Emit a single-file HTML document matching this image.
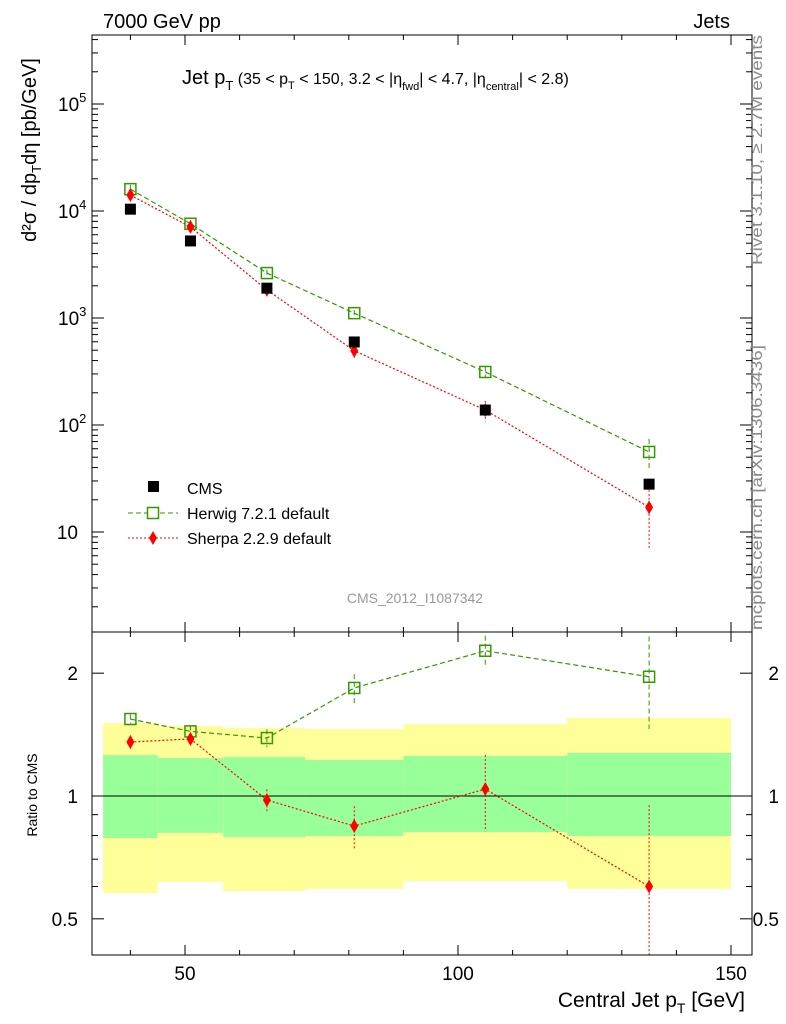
<!DOCTYPE html>
<html><head><meta charset="utf-8"><style>
body{margin:0;background:#fff;}
svg{display:block;font-family:"Liberation Sans",sans-serif;}
</style></head><body>
<svg id="c" width="786" height="1024"><defs><clipPath id="rc"><rect x="92" y="632" width="660" height="323"/></clipPath><clipPath id="mc"><rect x="92" y="35" width="660" height="597"/></clipPath></defs></svg>
<script>
const xs=[40,51,65,81,105,135];
const cmsVals=[10400,5250,1900,597,138,28];
const herwigVals=[16000,7600,2630,1110,313,56];
const herwigErr=[1500,600,200,80,40,18];
const sherpaVals=[14100,7100,1830,494,138,17];
const sherpaErr=[1500,700,200,70,30,10];
const herwigRatio=[1.544,1.44,1.387,1.84,2.27,1.96];
const herwigRatioErr=[0.04,0.05,0.07,0.15,0.2,0.5];
const sherpaRatio=[1.356,1.38,0.978,0.844,1.04,0.60];
const sherpaRatioErr=[0.05,0.05,0.06,0.1,0.22,0.35];
const binEdges=[35,45,57,72,90,120,150];
const yellowHi=[1.51,1.484,1.468,1.459,1.50,1.553];
const yellowLo=[0.578,0.616,0.585,0.592,0.619,0.592];
const greenHi=[1.26,1.239,1.246,1.225,1.253,1.275];
const greenLo=[0.789,0.812,0.793,0.798,0.816,0.798];
const xTicks=[50,100,150];
const mainTicks=[10,100,1000,10000,100000];
const mainTickLabels=["10","10<tspan dy='-9' font-size='13'>2</tspan>","10<tspan dy='-9' font-size='13'>3</tspan>","10<tspan dy='-9' font-size='13'>4</tspan>","10<tspan dy='-9' font-size='13'>5</tspan>"];
const ratioTicks=[0.5,1,2];

const svg=document.getElementById('c');
const NS='http://www.w3.org/2000/svg';
function el(t,a,name,parent){const e=document.createElementNS(NS,t);for(const k in a)e.setAttribute(k,a[k]);


(parent||svg).appendChild(e);return e;}
const L=92,R=752,T=35,M=632,B=955;
const X=v=>185+(v-50)*5.46;
const Y=v=>211-(Math.log10(v)-4)*107;
const RY=v=>796-Math.log10(v)*408;
const mainG=el('g',{'clip-path':'url(#mc)'},'main-plot-area');
const ratioG=el('g',{'clip-path':'url(#rc)'},'ratio-plot-area');

binEdges.slice(0,-1).forEach((e,i)=>{
 el('rect',{x:X(e),y:RY(yellowHi[i]),width:X(binEdges[i+1])-X(e),height:RY(yellowLo[i])-RY(yellowHi[i]),fill:'#ffff99'},'yellow-band',ratioG);
 el('rect',{x:X(e),y:RY(greenHi[i]),width:X(binEdges[i+1])-X(e),height:RY(greenLo[i])-RY(greenHi[i]),fill:'#99ff99'},'green-band',ratioG);
});
el('line',{x1:L,x2:R,y1:RY(1),y2:RY(1),stroke:'#000'},'ratio-unity-line',ratioG);
el('rect',{x:L,y:T,width:R-L,height:M-T,fill:'none',stroke:'#000'},'main-frame');
el('rect',{x:L,y:M,width:R-L,height:B-M,fill:'none',stroke:'#000'},'ratio-frame');
for(let v=40;v<=150;v+=10){const big=xTicks.includes(v);const l=big?10:5;
 [[M,-1],[B,-1],[T,1],[M,1]].forEach(([y,d])=>el('line',{x1:X(v),x2:X(v),y1:y,y2:y+d*l,stroke:'#000'},'x-tick'));}
xTicks.forEach(v=>{const t=el('text',{x:X(v),y:980,'font-size':19,'text-anchor':'middle'},'x-tick-label');t.textContent=v;});
for(let d=0;d<6;d++)for(let m=1;m<10;m++){const v=m*Math.pow(10,d);const y=Y(v);if(y<T||y>M)continue;const l=m==1?12:6;
 el('line',{x1:L,x2:L+l,y1:y,y2:y,stroke:'#000'},'y-tick');el('line',{x1:R,x2:R-l,y1:y,y2:y,stroke:'#000'},'y-tick');}
mainTicks.forEach((v,i)=>{const t=el('text',{x:i==0?78:58,y:Y(v)+7,'font-size':19,'text-anchor':i==0?'end':'start'},'y-tick-label');t.innerHTML=mainTickLabels[i];});
[0.5,0.6,0.7,0.8,0.9,1,2].forEach(v=>{const l=ratioTicks.includes(v)?12:6;
 el('line',{x1:L,x2:L+l,y1:RY(v),y2:RY(v),stroke:'#000'},'ratio-tick');el('line',{x1:R,x2:R-l,y1:RY(v),y2:RY(v),stroke:'#000'},'ratio-tick');});
ratioTicks.forEach(v=>{let t=el('text',{x:78,y:RY(v)+7,'font-size':19,'text-anchor':'end'},'ratio-tick-label');t.textContent=v;
 t=el('text',{x:779,y:RY(v)+7,'font-size':19,'text-anchor':'end'},'ratio-tick-label-right');t.textContent=v;});
function series(vals,errs,yf,color,dash,marker,name,g){
 const pts=xs.map((x,i)=>X(x)+','+yf(vals[i])).join(' ');
 el('polyline',{points:pts,fill:'none',stroke:color,'stroke-dasharray':dash,'stroke-width':1.2},name+'-line',g);
 xs.forEach((x,i)=>{
  el('line',{x1:X(x),x2:X(x),y1:yf(vals[i]+errs[i]),y2:yf(Math.max(vals[i]-errs[i],1e-3)),stroke:color,'stroke-dasharray':dash},name+'-error',g);
  const cx=X(x),cy=yf(vals[i]);
  if(marker=='sq')el('rect',{x:cx-5.5,y:cy-5.5,width:11,height:11,fill:'none',stroke:color,'stroke-width':1.5},name+'-marker',g);
  else el('polygon',{points:`${cx},${cy-7} ${cx+4},${cy} ${cx},${cy+7} ${cx-4},${cy}`,fill:color},name+'-marker',g);
 });
}
series(herwigVals,herwigErr,Y,'#339900','5,3','sq','herwig',mainG);
series(sherpaVals,sherpaErr,Y,'#ff0000','2,2','dia','sherpa',mainG);
xs.forEach((x,i)=>el('rect',{x:X(x)-5.5,y:Y(cmsVals[i])-5.5,width:11,height:11,fill:'#000'},'cms-marker',mainG));
series(herwigRatio,herwigRatioErr,RY,'#339900','5,3','sq','herwig-ratio',ratioG);
series(sherpaRatio,sherpaRatioErr,RY,'#ff0000','2,2','dia','sherpa-ratio',ratioG);
</script>
<svg width="786" height="1024" style="position:absolute;left:0;top:0;font-family:'Liberation Sans',sans-serif">
<text x="103" y="28" font-size="20">7000 GeV pp</text>
<text x="730" y="28" font-size="20" text-anchor="end">Jets</text>
<text x="182" y="84" font-size="20">Jet p<tspan dy="6" font-size="13">T</tspan><tspan dy="-6" font-size="16"> (35 &lt; p</tspan><tspan dy="5" font-size="11">T</tspan><tspan dy="-5" font-size="16"> &lt; 150, 3.2 &lt; |η</tspan><tspan dy="6" font-size="11">fwd</tspan><tspan dy="-6" font-size="16">| &lt; 4.7, |η</tspan><tspan dy="6" font-size="11">central</tspan><tspan dy="-6" font-size="16">| &lt; 2.8)</tspan></text>
<g transform="translate(36,150) rotate(-90)"><text x="0" y="0" font-size="20" text-anchor="middle">d²σ / dp<tspan font-size="13" dy="5">T</tspan><tspan dy="-5">dη [pb/GeV]</tspan></text></g>
<g transform="translate(762,265) rotate(-90)"><text font-size="16" fill="#888" textLength="230" lengthAdjust="spacingAndGlyphs">Rivet 3.1.10, ≥ 2.7M events</text></g>
<g transform="translate(762,630) rotate(-90)"><text font-size="16" fill="#888" textLength="285" lengthAdjust="spacingAndGlyphs">mcplots.cern.ch [arXiv:1306.3436]</text></g>
<text x="415" y="603" font-size="14" fill="#999" text-anchor="middle">CMS_2012_I1087342</text>
<rect x="148" y="481" width="11" height="11" fill="#000"/>
<text x="187" y="494" font-size="16">CMS</text>
<line x1="128" x2="178" y1="513" y2="513" stroke="#339900" stroke-dasharray="5,3"/>
<rect x="147.5" y="507.5" width="11" height="11" fill="#fff" stroke="#339900" stroke-width="1.5"/>
<text x="187" y="519" font-size="16">Herwig 7.2.1 default</text>
<line x1="128" x2="178" y1="538" y2="538" stroke="#f00" stroke-dasharray="2,2"/>
<polygon points="153,531 157,538 153,545 149,538" fill="#f00"/>
<text x="187" y="544" font-size="16">Sherpa 2.2.9 default</text>
<g transform="translate(37,795) rotate(-90)"><text font-size="14" text-anchor="middle">Ratio to CMS</text></g>
<text x="745" y="1007" font-size="21" text-anchor="end">Central Jet p<tspan dy="6" font-size="14">T</tspan><tspan dy="-6"> [GeV]</tspan></text>
</svg>
</body></html>
